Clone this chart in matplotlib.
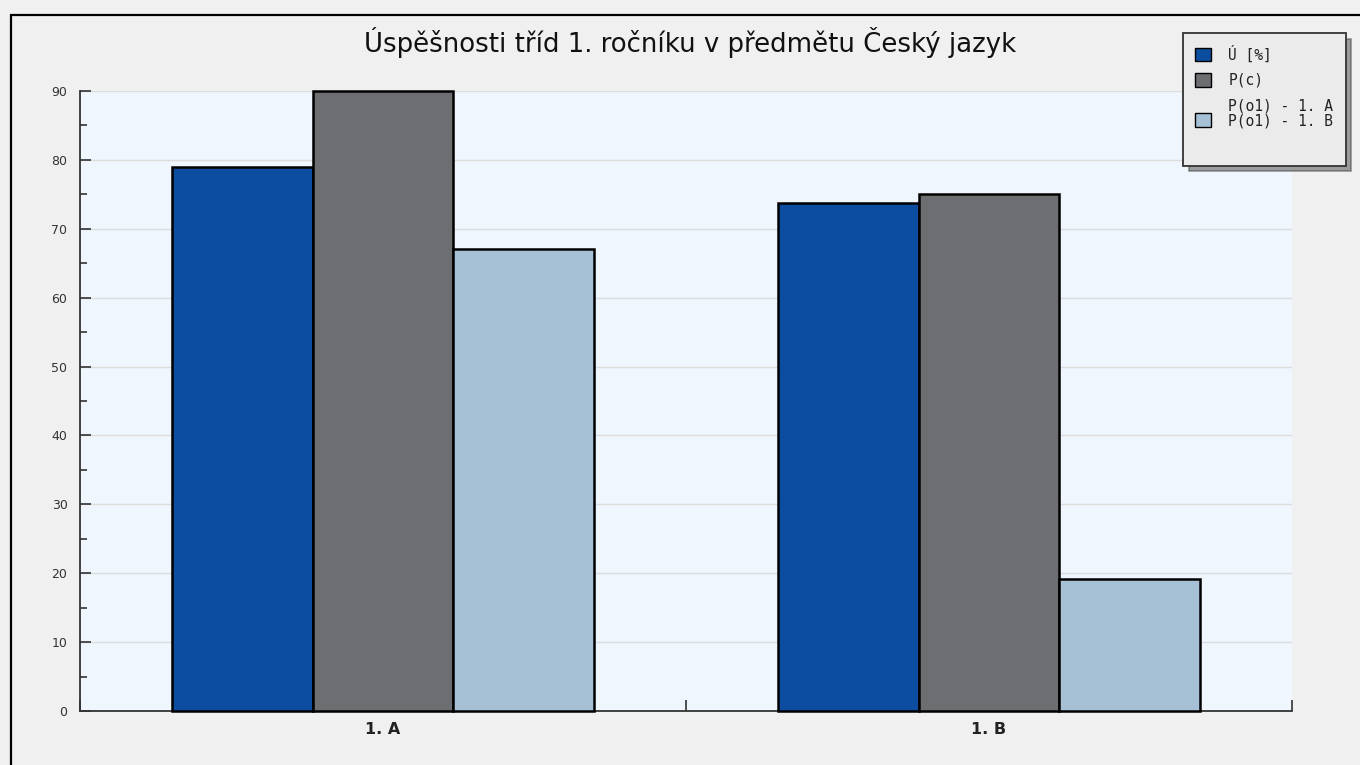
import matplotlib.pyplot as plt
from matplotlib.patches import Rectangle, Patch
import numpy as np

# data
title = "Úspěšnosti tříd 1. ročníku v předmětu Český jazyk"
classes = ["1. A", "1. B"]
uspesnost = [78.9, 73.8]   # Ú [%]
pc = [90.0, 75.1]          # P(c)
po1 = [67.0, 19.1]         # P(o1) - 1. A / P(o1) - 1. B
series_labels = ["Ú [%]", "P(c)", "P(o1) - 1. A\nP(o1) - 1. B"]
colors = ["#0c4da0", "#6d6e72", "#a6c0d6"]

W, H = 1360, 765
fig = plt.figure(figsize=(W / 100, H / 100), dpi=100, facecolor="#f0f0f0")
ax = fig.add_axes([80 / W, 1 - 711 / H, (1292 - 80) / W, (711 - 91) / H])
ax.set_facecolor("#eff6fd")

# outer frame of the chart (runs off the right and bottom edge)
fig.add_artist(Rectangle((11 / W, -0.1), 1.2, 1 - 15 / H + 0.1,
                         transform=fig.transFigure, fill=False,
                         edgecolor="black", lw=1.6))

x = np.arange(len(classes)) + 0.5
w = 0.2325
for i, vals in enumerate([uspesnost, pc, po1]):
    ax.bar(x + (i - 1) * w, vals, width=w, color=colors[i],
           edgecolor="black", linewidth=1.8, clip_on=False, zorder=3)

ax.set_xlim(0, 2)
ax.set_ylim(0, 90)
ax.set_yticks(np.arange(0, 91, 10))
ax.set_yticks(np.arange(5, 90, 10), minor=True)
ax.set_xticks(x)
ax.set_xticklabels(classes, fontweight="bold", fontsize=11.5, color="#222")
ax.set_xticks([0, 1, 2], minor=True)

ax.tick_params(axis="y", which="major", direction="in", length=8, width=1.2,
               color="#333", labelsize=9, labelcolor="#333", pad=9)
ax.tick_params(axis="y", which="minor", direction="in", length=5, width=1.2,
               color="#333")
ax.tick_params(axis="x", which="major", length=0, pad=8)
ax.tick_params(axis="x", which="minor", direction="in", length=8, width=1.2,
               color="#333")

ax.grid(axis="y", which="major", color="#dcdcdc", lw=1)
ax.set_axisbelow(True)
for s in ["top", "right"]:
    ax.spines[s].set_visible(False)
for s in ["left", "bottom"]:
    ax.spines[s].set_color("#333")
    ax.spines[s].set_linewidth(1.3)

fig.text(690 / W, 1 - 42 / H, title, ha="center", va="center",
         fontsize=18.7, color="#111")

# legend; last invisible entry only adds the empty space at the bottom
handles = [Patch(facecolor=c, edgecolor="black", lw=1) for c in colors]
handles.append(Patch(facecolor="none", edgecolor="none"))
leg = fig.legend(handles, series_labels + [" "], loc="upper left",
                 bbox_to_anchor=(1183 / W, 1 - 33 / H),
                 prop=dict(family="DejaVu Sans Mono", size=10.5),
                 frameon=True, fancybox=False,
                 shadow={"ox": 4, "oy": -4},
                 facecolor="#ebebeb", edgecolor="#333", framealpha=1,
                 handlelength=1.05, handleheight=1.05, handletextpad=1.2,
                 labelspacing=0.7, borderpad=0.85, borderaxespad=0)
leg.get_frame().set_linewidth(1.3)
for t in leg.get_texts():
    t.set_color("#222")
    t.set_linespacing(1.0)
for col in leg._legend_handle_box.get_children():
    for row in col.get_children():
        for c in row.get_children():
            if hasattr(c, "set_multilinebaseline"):
                c.set_multilinebaseline(False)

fig.savefig("out.png", dpi=100, facecolor=fig.get_facecolor())
